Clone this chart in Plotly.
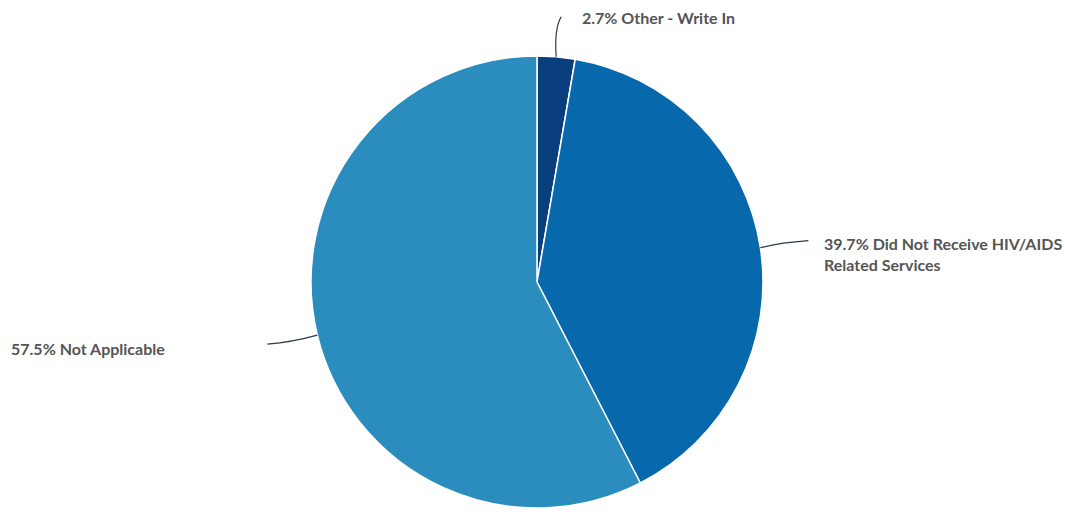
import math
import plotly.graph_objects as go

labels = ["Other - Write In", "Did Not Receive HIV/AIDS<br>Related Services", "Not Applicable"]
values = [2.7, 39.7, 57.5]
colors = ["#093e7d", "#0868ac", "#2b8cbe"]

W, H = 1065, 512
CX, CY, R = 537, 282, 226

def px(x):
    return x / W

def py(y):
    return (H - y) / H

fig = go.Figure()
fig.add_trace(go.Pie(
    labels=labels, values=values, sort=False, direction="clockwise", rotation=0,
    marker=dict(colors=colors, line=dict(color="white", width=1.5)),
    textinfo="none", hoverinfo="label+percent", showlegend=False,
    domain=dict(x=[px(CX - R), px(CX + R)], y=[py(CY + R), py(CY - R)]),
))

# leader line / label styling: (line end dx, dy, control dx, dy, text dx, dy, anchor)
styles = [
    dict(end=(5, -40), ctrl=(-2, -28), text=(24, -39), anchor="left"),
    dict(end=(48, -7), ctrl=(20, -5), text=(62, 6), anchor="left"),
    dict(end=(-50, 9), ctrl=(-25, 7), text=(-150, 13), anchor="right"),
]

total = sum(values)
cum = 0
for lab, v, st in zip(labels, values, styles):
    mid = (cum + v / 2) / total * 2 * math.pi
    cum += v
    ex, ey = CX + R * math.sin(mid), CY - R * math.cos(mid)
    lx, ly = ex + st["end"][0], ey + st["end"][1]
    cx, cy = ex + st["ctrl"][0], ey + st["ctrl"][1]
    fig.add_shape(type="path", xref="paper", yref="paper",
                  path=f"M {px(ex)} {py(ey)} Q {px(cx)} {py(cy)} {px(lx)} {py(ly)}",
                  line=dict(color="#2a3a4a", width=1.2))
    pct = f"{v:.1f}%"
    text = f"<b>{pct} {lab}</b>".replace("<br>", "</b><br><b>")
    fig.add_annotation(xref="paper", yref="paper",
                       x=px(ex + st["text"][0]), y=py(ey + st["text"][1]),
                       text=text, showarrow=False,
                       xanchor=st["anchor"], yanchor="middle", align="left",
                       font=dict(family="Lato, Open Sans, sans-serif", size=16, color="#555555"))

fig.update_layout(width=W, height=H, margin=dict(l=0, r=0, t=0, b=0),
                  paper_bgcolor="white", plot_bgcolor="white")
fig.write_html("out.html", config={"displayModeBar": False},
               post_script="document.body.style.margin='0';")
